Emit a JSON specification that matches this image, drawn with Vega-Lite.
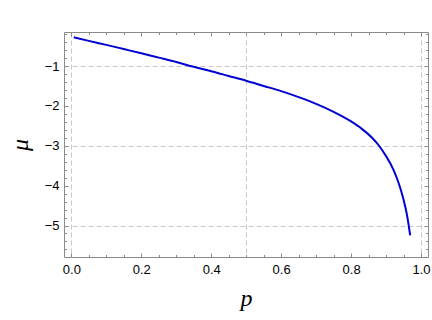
{
  "$schema": "https://vega.github.io/schema/vega-lite/v6.json",
  "width": 364,
  "height": 225,
  "autosize": "none",
  "padding": {"left": 64, "top": 32, "right": 4, "bottom": 63},
  "background": "white",
  "config": {
    "view": {"stroke": "#8a8a8a", "strokeWidth": 1},
    "axis": {
      "domain": false,
      "grid": false,
      "tickColor": "#8a8a8a",
      "labelFont": "Liberation Sans",
      "labelFontSize": 13,
      "labelColor": "#000000",
      "titleFont": "Liberation Serif",
      "titleFontStyle": "italic",
      "titleFontWeight": "normal",
      "titleFontSize": 24,
      "titleColor": "#000000"
    }
  },
  "data": {
    "values": [
      {"p": 0.007, "mu": -0.28},
      {"p": 0.05, "mu": -0.37},
      {"p": 0.1, "mu": -0.47},
      {"p": 0.15, "mu": -0.575},
      {"p": 0.2, "mu": -0.68},
      {"p": 0.25, "mu": -0.79},
      {"p": 0.3, "mu": -0.9},
      {"p": 0.35, "mu": -1.02},
      {"p": 0.4, "mu": -1.13},
      {"p": 0.45, "mu": -1.25},
      {"p": 0.5, "mu": -1.37},
      {"p": 0.55, "mu": -1.5},
      {"p": 0.6, "mu": -1.63},
      {"p": 0.65, "mu": -1.78},
      {"p": 0.7, "mu": -1.95},
      {"p": 0.75, "mu": -2.15},
      {"p": 0.8, "mu": -2.39},
      {"p": 0.83, "mu": -2.57},
      {"p": 0.86, "mu": -2.8},
      {"p": 0.88, "mu": -3.0},
      {"p": 0.9, "mu": -3.26},
      {"p": 0.92, "mu": -3.58},
      {"p": 0.93, "mu": -3.79},
      {"p": 0.94, "mu": -4.04},
      {"p": 0.95, "mu": -4.35},
      {"p": 0.96, "mu": -4.74},
      {"p": 0.969, "mu": -5.25}
    ]
  },
  "layer": [
    {
      "mark": {"type": "line", "opacity": 0},
      "encoding": {
        "x": {"field": "p", "type": "quantitative", "scale": {"domain": [-0.021, 1.02], "nice": false, "zero": false},
          "axis": {"grid": true, "values": [0, 0.5, 1], "ticks": false, "labels": false, "title": null, "gridColor": "#c8c8c8", "gridDash": [5, 3], "gridWidth": 1}},
        "y": {"field": "mu", "type": "quantitative", "scale": {"domain": [-5.79, -0.147], "nice": false, "zero": false},
          "axis": {"grid": true, "values": [-1, -3, -5], "ticks": false, "labels": false, "title": null, "gridColor": "#c8c8c8", "gridDash": [5, 3], "gridWidth": 1}}
      }
    },
    {
      "mark": {"type": "line", "opacity": 0},
      "encoding": {
        "x": {"field": "p", "type": "quantitative", "scale": {"domain": [-0.021, 1.02], "nice": false, "zero": false},
          "axis": {"orient": "bottom", "values": [0, 0.05, 0.1, 0.15, 0.2, 0.25, 0.3, 0.35, 0.4, 0.45, 0.5, 0.55, 0.6, 0.65, 0.7, 0.75, 0.8, 0.85, 0.9, 0.95, 1], "tickSize": -2.5, "labels": false, "title": null}},
        "y": {"field": "mu", "type": "quantitative", "scale": {"domain": [-5.79, -0.147], "nice": false, "zero": false},
          "axis": {"orient": "left", "values": [-0.2, -0.4, -0.6, -0.8, -1.2, -1.4, -1.6, -1.8, -2.2, -2.4, -2.6, -2.8, -3.2, -3.4, -3.6, -3.8, -4.2, -4.4, -4.6, -4.8, -5.2, -5.4, -5.6], "tickSize": -2.5, "labels": false, "title": null}}
      }
    },
    {
      "mark": {"type": "line", "opacity": 0},
      "encoding": {
        "x": {"field": "p", "type": "quantitative", "scale": {"domain": [-0.021, 1.02], "nice": false, "zero": false},
          "axis": {"orient": "top", "values": [0, 0.2, 0.4, 0.6, 0.8, 1], "tickSize": -4, "labels": false, "title": null}},
        "y": {"field": "mu", "type": "quantitative", "scale": {"domain": [-5.79, -0.147], "nice": false, "zero": false},
          "axis": {"orient": "right", "values": [-1, -2, -3, -4, -5], "tickSize": -4, "labels": false, "title": null}}
      }
    },
    {
      "mark": {"type": "line", "opacity": 0},
      "encoding": {
        "x": {"field": "p", "type": "quantitative", "scale": {"domain": [-0.021, 1.02], "nice": false, "zero": false},
          "axis": {"orient": "top", "values": [0, 0.05, 0.1, 0.15, 0.2, 0.25, 0.3, 0.35, 0.4, 0.45, 0.5, 0.55, 0.6, 0.65, 0.7, 0.75, 0.8, 0.85, 0.9, 0.95, 1], "tickSize": -2.5, "labels": false, "title": null}},
        "y": {"field": "mu", "type": "quantitative", "scale": {"domain": [-5.79, -0.147], "nice": false, "zero": false},
          "axis": {"orient": "right", "values": [-0.2, -0.4, -0.6, -0.8, -1.2, -1.4, -1.6, -1.8, -2.2, -2.4, -2.6, -2.8, -3.2, -3.4, -3.6, -3.8, -4.2, -4.4, -4.6, -4.8, -5.2, -5.4, -5.6], "tickSize": -2.5, "labels": false, "title": null}}
      }
    },
    {
      "mark": {"type": "line", "color": "#0000d2", "strokeWidth": 2, "interpolate": "monotone"},
      "encoding": {
        "x": {"field": "p", "type": "quantitative", "scale": {"domain": [-0.021, 1.02], "nice": false, "zero": false},
          "axis": {"orient": "bottom", "values": [0, 0.2, 0.4, 0.6, 0.8, 1], "format": ".1f", "tickSize": -4, "labelPadding": 10, "title": "p", "titlePadding": 10}},
        "y": {"field": "mu", "type": "quantitative", "scale": {"domain": [-5.79, -0.147], "nice": false, "zero": false},
          "axis": {"orient": "left", "values": [-1, -2, -3, -4, -5], "format": "d", "tickSize": -4, "labelPadding": 9, "title": "μ", "titlePadding": 12}}
      }
    }
  ],
  "resolve": {"axis": {"x": "independent", "y": "independent"}}
}
